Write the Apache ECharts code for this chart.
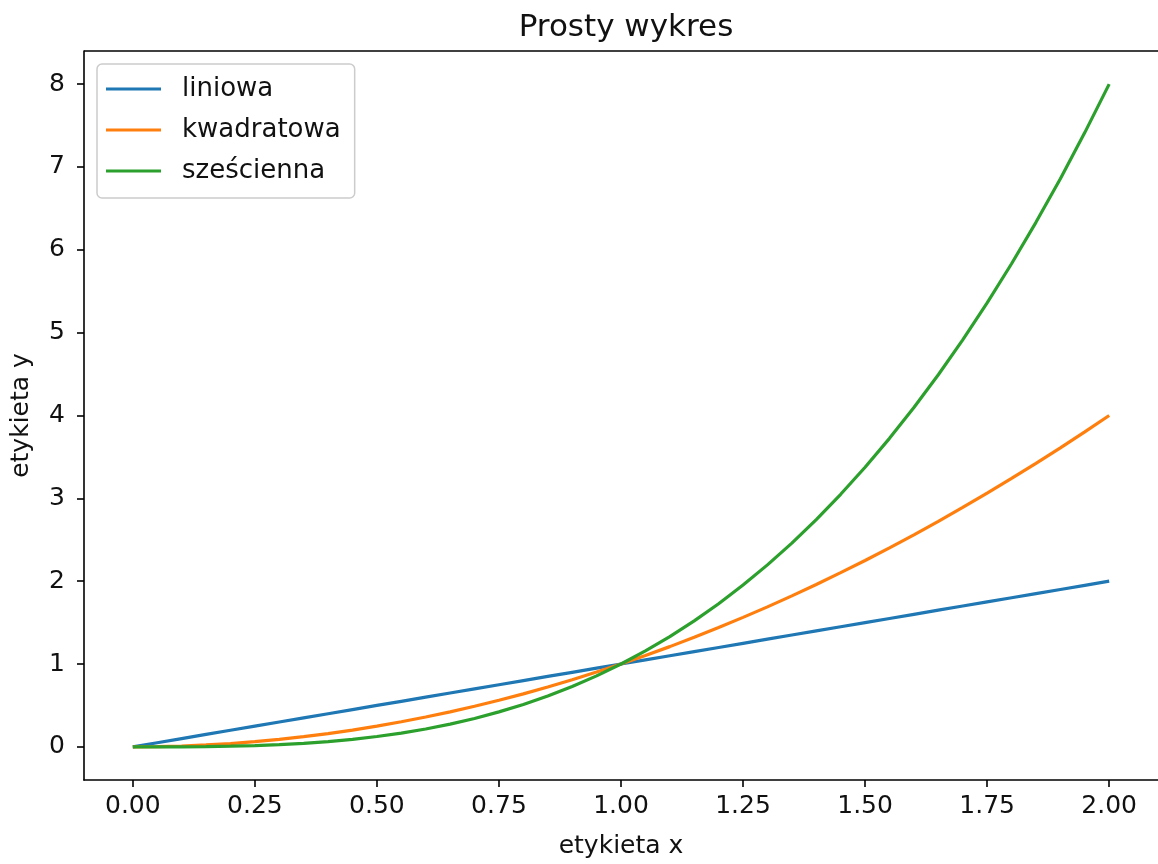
<!DOCTYPE html>
<html>
<head>
<meta charset="utf-8">
<script src="https://cdn.jsdelivr.net/npm/echarts@6/dist/echarts.min.js"></script>
<style>html,body{margin:0;padding:0;background:#fff;}#c{width:1158px;height:864px;}</style>
</head>
<body>
<div id="c"></div>
<script>
const xs = [0,0.05,0.1,0.15,0.2,0.25,0.3,0.35,0.4,0.45,0.5,0.55,0.6,0.65,0.7,0.75,0.8,0.85,0.9,0.95,1,1.05,1.1,1.15,1.2,1.25,1.3,1.35,1.4,1.45,1.5,1.55,1.6,1.65,1.7,1.75,1.8,1.85,1.9,1.95,2];
const liniowa = [0,0.05,0.1,0.15,0.2,0.25,0.3,0.35,0.4,0.45,0.5,0.55,0.6,0.65,0.7,0.75,0.8,0.85,0.9,0.95,1,1.05,1.1,1.15,1.2,1.25,1.3,1.35,1.4,1.45,1.5,1.55,1.6,1.65,1.7,1.75,1.8,1.85,1.9,1.95,2];
const kwadratowa = [0,0.003,0.01,0.023,0.04,0.063,0.09,0.123,0.16,0.203,0.25,0.303,0.36,0.423,0.49,0.563,0.64,0.723,0.81,0.903,1,1.103,1.21,1.323,1.44,1.563,1.69,1.823,1.96,2.103,2.25,2.403,2.56,2.723,2.89,3.063,3.24,3.423,3.61,3.803,4];
const szescienna = [0,0.0001,0.001,0.003,0.008,0.016,0.027,0.043,0.064,0.091,0.125,0.166,0.216,0.275,0.343,0.422,0.512,0.614,0.729,0.857,1,1.158,1.331,1.521,1.728,1.953,2.197,2.46,2.744,3.049,3.375,3.724,4.096,4.492,4.913,5.359,5.832,6.332,6.859,7.415,8];
const xTicks = [0,0.25,0.5,0.75,1,1.25,1.5,1.75,2];
const yTicks = [0,1,2,3,4,5,6,7,8];
const names = ['liniowa','kwadratowa','sześcienna'];
const colors = ['#1f77b4','#ff7f0e','#2ca02c'];
const seriesData = [liniowa, kwadratowa, szescienna];

const font = 'DejaVu Sans';
const chart = echarts.init(document.getElementById('c'), null, {renderer:'canvas'});
chart.setOption({
  animation:false,
  backgroundColor:'#fff',
  title:{text:'Prosty wykres', left:621, top:7, textAlign:'center',
    textStyle:{fontFamily:font, fontSize:31, fontWeight:'normal', color:'#111'}},
  grid:{left:84, top:51, width:1076, height:733, containLabel:false},
  legend:{
    orient:'vertical', left:97, top:64,
    data:names, icon:'rect', itemWidth:55, itemHeight:3, itemGap:15,
    padding:[12,14,14,9],
    backgroundColor:'rgba(255,255,255,0.8)', borderColor:'#cccccc', borderWidth:1.5, borderRadius:5,
    textStyle:{fontFamily:font, fontSize:26, color:'#111', padding:[0,0,0,16], lineHeight:25}
  },
  xAxis:{
    type:'value', min:-0.1, max:2.1,
    name:'etykieta x', nameLocation:'middle', nameGap:54,
    nameTextStyle:{fontFamily:font, fontSize:25, color:'#111'},
    axisLine:{show:true, onZero:false, lineStyle:{color:'#000', width:1.6}},
    axisTick:{show:true, inside:false, length:7, lineStyle:{color:'#000', width:1.6}, customValues:xTicks},
    axisLabel:{fontFamily:font, fontSize:25, color:'#111', margin:14, customValues:xTicks,
      formatter:v=>v.toFixed(2)},
    splitLine:{show:false}
  },
  yAxis:{
    type:'value', min:-0.4, max:8.4,
    name:'etykieta y', nameLocation:'middle', nameGap:50, nameRotate:90,
    nameTextStyle:{fontFamily:font, fontSize:25, color:'#111'},
    axisLine:{show:true, onZero:false, lineStyle:{color:'#000', width:1.6}},
    axisTick:{show:true, inside:false, length:7, lineStyle:{color:'#000', width:1.6}, customValues:yTicks},
    axisLabel:{fontFamily:font, fontSize:25, color:'#111', margin:19, customValues:yTicks,
      formatter:v=>String(v)},
    splitLine:{show:false}
  },
  series: names.map((n,i)=>({
    name:n, type:'line', showSymbol:false, symbol:'none',
    data: xs.map((x,j)=>[x, seriesData[i][j]]),
    lineStyle:{color:colors[i], width:3.2}, itemStyle:{color:colors[i]},
    z: 2+i
  })),
  graphic:[{type:'line', shape:{x1:84,y1:51,x2:1160,y2:51}, style:{stroke:'#000', lineWidth:1.6}, z:100}]
});
</script>
</body>
</html>
